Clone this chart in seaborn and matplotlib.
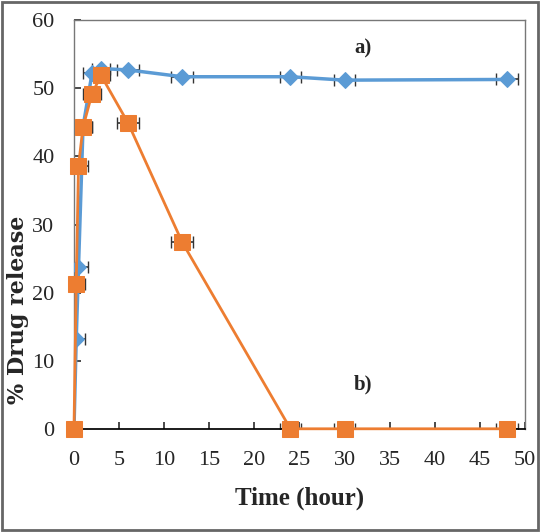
import pandas as pd
import matplotlib
matplotlib.use("Agg")
import matplotlib.pyplot as plt
import seaborn as sns
from matplotlib.patches import Rectangle

# --- Data ---
time_h = [0, 0.25, 0.5, 1, 2, 3, 6, 12, 24, 30, 48]
release_a = [0, 13.2, 23.7, 44.3, 52.2, 52.9, 52.7, 51.7, 51.7, 51.2, 51.3]
release_b = [0, 21.3, 38.6, 44.3, 49.2, 51.9, 44.9, 27.4, 0, 0, 0]
time_err = [0.8, 1.0, 1.0, 1.0, 1.0, 1.0, 1.2, 1.2, 1.2, 1.2, 1.2]
x_ticks = [0, 5, 10, 15, 20, 25, 30, 35, 40, 45, 50]
y_ticks = [0, 10, 20, 30, 40, 50, 60]

df = pd.DataFrame({
    "time": time_h * 2,
    "release": release_a + release_b,
    "series": ["a"] * len(time_h) + ["b"] * len(time_h),
})

sns.set_theme(style="ticks")
plt.rcParams["font.family"] = ["Liberation Serif", "DejaVu Serif"]

BLUE = "#5B9BD5"
ORANGE = "#ED7D31"

fig = plt.figure(figsize=(5.4, 5.32), dpi=100)
ax = fig.add_axes([0.137, 0.194, 0.835, 0.768])

# error bars (horizontal) drawn under the markers
ax.errorbar(time_h, release_a, xerr=time_err, fmt="none", ecolor="#333333",
            elinewidth=1.2, capsize=4, zorder=2)
ax.errorbar(time_h, release_b, xerr=time_err, fmt="none", ecolor="#333333",
            elinewidth=1.2, capsize=4, zorder=2)

sns.lineplot(data=df[df.series == "a"], x="time", y="release", ax=ax,
             color=BLUE, linewidth=2.5, marker="D", markersize=8,
             markeredgecolor=BLUE, zorder=3)
sns.lineplot(data=df[df.series == "b"], x="time", y="release", ax=ax,
             color=ORANGE, linewidth=2, marker="s", markersize=11,
             markeredgecolor=ORANGE, zorder=4, clip_on=False)

ax.set_xlim(0, 50)
ax.set_ylim(0, 60)
ax.set_xticks(x_ticks)
ax.set_yticks(y_ticks)
ax.tick_params(direction="in", length=5, labelsize=16, color="#333333")
ax.tick_params(axis="x", pad=16)
ax.tick_params(axis="y", pad=14)
for s in ["top", "right", "left"]:
    ax.spines[s].set_color("#777777")
    ax.spines[s].set_linewidth(1)
ax.spines["bottom"].set_color("black")

ax.set_xlabel("Time (hour)", fontsize=18, fontweight="bold", labelpad=12)
ax.set_ylabel("")
# y label placed by hand, it sits lower than the axis centre in the reference
fig.text(18 / 540, 1 - 310 / 532, "% Drug release", rotation=90, fontsize=16,
         fontweight="bold", family=["DejaVu Serif"], ha="center", va="center")

ax.text(32, 55.8, "a)", fontsize=15, fontweight="bold", ha="center", va="center")
ax.text(32, 6.5, "b)", fontsize=15, fontweight="bold", ha="center", va="center")

# grey frame around the whole picture
fig.patches.append(Rectangle((0.003, 0.003), 0.994, 0.994, transform=fig.transFigure,
                             fill=False, edgecolor="#666666", linewidth=2))

fig.savefig("out.png", dpi=100)
